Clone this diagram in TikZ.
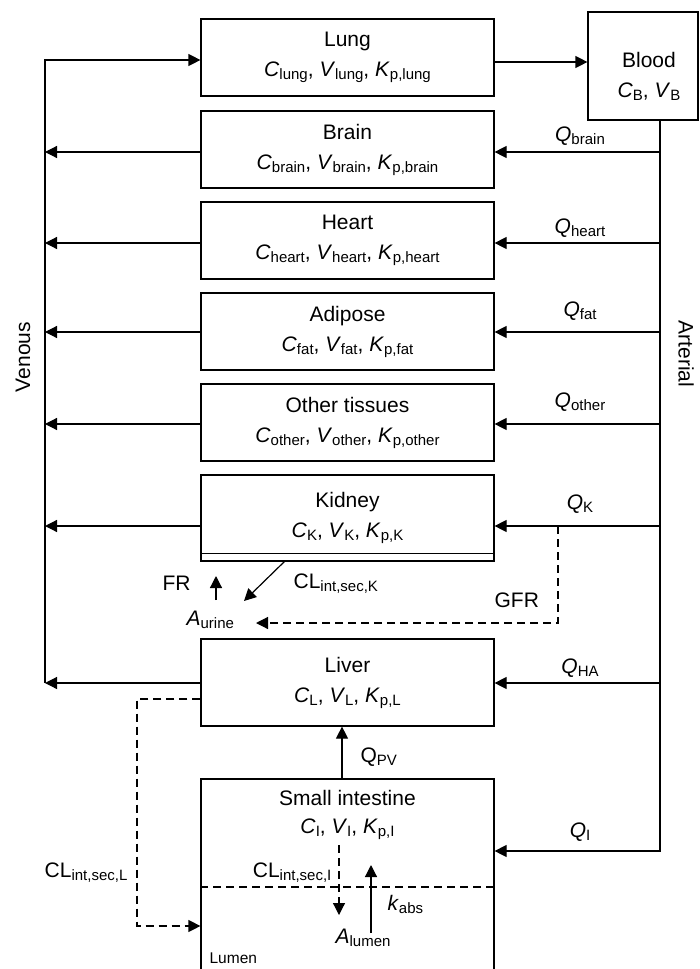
\documentclass[tikz,border=0pt]{standalone}
\usepackage{fontspec}
\setmainfont{Liberation Sans}
\usetikzlibrary{arrows.meta}
\newcommand{\subs}[1]{\raisebox{-3pt}{\fontsize{15}{15}\selectfont #1}}
\newcommand{\vr}[2]{\textit{#1}\subs{#2}}
\begin{document}
\begin{tikzpicture}[x=1pt,y=-1pt, line width=1.2pt,
  >={Triangle[length=12pt,width=12pt]},
  organ/.style={draw, minimum width=293pt, minimum height=77pt, inner sep=0pt, align=center, font=\fontsize{21}{30}\selectfont},
  txt/.style={inner sep=0pt, align=center, font=\fontsize{21}{30}\selectfont},
  dsh/.style={dash pattern=on 8pt off 5pt}]
\clip (0,0) rectangle (699,969);
\fill[white] (0,0) rectangle (699,969);

% boxes
\node[organ] (lung) at (347.5,57.5) {Lung\\\vr{C}{lung}, \vr{V}{lung}, \vr{K}{p,lung}};
\node[organ] (brain) at (347.5,149.5) {Brain\\\vr{C}{brain}, \vr{V}{brain}, \vr{K}{p,brain}};
\node[organ] (heart) at (347.5,240.5) {Heart\\\vr{C}{heart}, \vr{V}{heart}, \vr{K}{p,heart}};
\node[organ] (fat) at (347.5,331.5) {Adipose\\\vr{C}{fat}, \vr{V}{fat}, \vr{K}{p,fat}};
\node[organ] (other) at (347.5,422.5) {Other tissues\\\vr{C}{other}, \vr{V}{other}, \vr{K}{p,other}};
\node[organ, minimum height=86pt] (kidney) at (347.5,518) {Kidney\\\vr{C}{K}, \vr{V}{K}, \vr{K}{p,K}};
\draw ([yshift=8pt]kidney.south west) -- ([yshift=8pt]kidney.south east);
\node[organ, minimum height=87pt] (liver) at (347.5,682.5) {Liver\\\vr{C}{L}, \vr{V}{L}, \vr{K}{p,L}};
\node[draw, minimum width=293pt, minimum height=221pt, inner sep=0pt] (si) at (347.5,889.5) {};
\node[txt, font=\fontsize{21}{28}\selectfont] (sitxt) at (347.5,815) {Small intestine\\\vr{C}{I}, \vr{V}{I}, \vr{K}{p,I}};
\node[draw, minimum width=110pt, minimum height=108pt, inner sep=0pt] (blood) at (643,66) {};
\node[txt] (bloodtxt) at (649,76) {Blood\\\vr{C}{B}, \vr{V}{B}};

% side labels
\node[txt, rotate=90] (venous) at (23,357) {Venous};
\node[txt, rotate=-90] (arterial) at (686,354) {Arterial};

% venous side
\coordinate (v0) at (45,60);
\coordinate (vliver) at (45,683);
\draw[->] (vliver) -- (v0) -- (v0 -| lung.west);
% lung to blood
\draw[->] ([yshift=-4.5pt]lung.east) -- ([yshift=-4.5pt]lung.east -| blood.west);

% arterial side
\coordinate (aI) at (660,851);
\draw[->] (blood.south -| aI) -- (aI) -- (aI -| si.east);
\foreach \n/\y in {brain/152, heart/243, fat/332, other/424, kidney/526, liver/683} {
  \coordinate (a\n) at (660,\y);
  \coordinate (v\n) at (45,\y);
  \draw[->] (a\n) -- (a\n -| \n.east);
  \draw[->] (\n.west |- a\n) -- (v\n);
}

% flow labels
\node[txt, anchor=base] (qbrain) at (580,141) {\vr{Q}{brain}};
\node[txt, anchor=base] (qheart) at (580,233) {\vr{Q}{heart}};
\node[txt, anchor=base] (qfat) at (580,316) {\vr{Q}{fat}};
\node[txt, anchor=base] (qother) at (580,407) {\vr{Q}{other}};
\node[txt, anchor=base] (qk) at (580,509) {\vr{Q}{K}};
\node[txt, anchor=base] (qha) at (580,673) {\vr{Q}{HA}};
\node[txt, anchor=base] (qi) at (580,837) {\vr{Q}{I}};

% kidney excretion
\node[txt, anchor=base west] (aurine) at (186,625) {\vr{A}{urine}};
\node[txt, anchor=base west] (fr) at (162,590) {FR};
\coordinate (fr0) at (216,600);
\coordinate (fr1) at (216,576);
\draw[->] (fr0) -- (fr1);
\coordinate (clk0) at (285,561);
\coordinate (clk1) at (244,601);
\draw[->] (clk0) -- (clk1);
\node[txt, anchor=base west] (clklbl) at (293,588) {CL\subs{int,sec,K}};
\coordinate (g0) at (558,526);
\coordinate (g1) at (558,623);
\coordinate (g2) at (256,623);
\draw[dsh,->] (g0) -- (g1) -- (g2);
\node[txt, anchor=base west] (gfr) at (494,607) {GFR};

% liver secretion
\coordinate (l1) at (137,699);
\coordinate (l2) at (137,926);
\draw[dsh,->] (liver.west |- l1) -- (l1) -- (l2) -- (l2 -| si.west);
\node[txt, anchor=base east] (cllbl) at (128,877) {CL\subs{int,sec,L}};

% portal vein
\coordinate (qpv) at (342,750);
\draw[->] (si.north -| qpv) -- (liver.south -| qpv);
\node[txt, anchor=base west] (qpvlbl) at (360,762) {Q\subs{PV}};

% intestine internals
\coordinate (d0) at (0,887);
\draw[dsh] (si.west |- d0) -- (si.east |- d0);
\coordinate (ci0) at (339,845);
\coordinate (ci1) at (339,915);
\draw[dsh,->] (ci0) -- (ci1);
\node[txt, anchor=base east] (cilbl) at (332,877) {CL\subs{int,sec,I}};
\coordinate (ka0) at (371,933);
\coordinate (ka1) at (371,865);
\draw[->] (ka0) -- (ka1);
\node[txt, anchor=base west] (kabs) at (387,910) {\vr{k}{abs}};
\node[txt, anchor=base west] (alumen) at (335,943) {\vr{A}{lumen}};
\node[inner sep=0pt, anchor=base west, font=\fontsize{15.5}{18}\selectfont] (lumen) at (209,963) {Lumen};
\end{tikzpicture}
\end{document}
